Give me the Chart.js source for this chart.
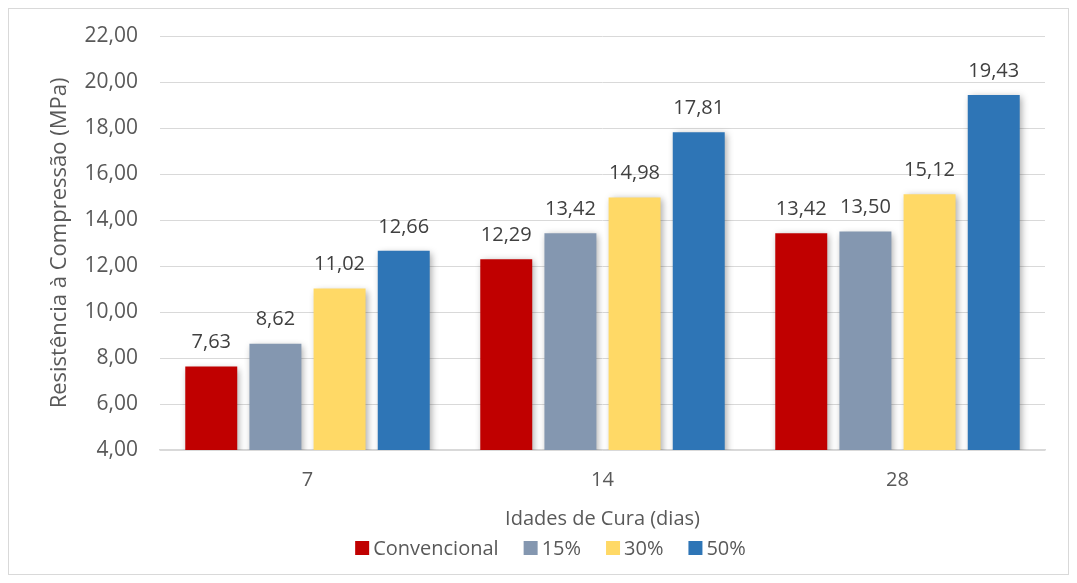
<!DOCTYPE html>
<html>
<head>
<meta charset="utf-8">
<script src="https://cdn.jsdelivr.net/npm/chart.js@4.4.1/dist/chart.umd.min.js"></script>
<style>
    html, body { margin: 0; padding: 0; background: #fff; }
    #wrap { position: relative; width: 1077px; height: 583px; }
    #frame {
        position: absolute; left: 8px; top: 8px; width: 1059px; height: 565px;
        border: 1px solid #d9d9d9; pointer-events: none;
    }
</style>
</head>
<body>
<div id="wrap">
    <canvas id="strengthChart" width="1077" height="583"></canvas>
    <div id="frame"></div>
</div>
<script>
// Curing ages (days) and compressive strength per mix (MPa)
const ages = ['7', '14', '28'];
const seriesNames = ['Convencional', '15%', '30%', '50%'];
const convencional = [7.63, 12.29, 13.42];
const pct15 = [8.62, 13.42, 13.50];
const pct30 = [11.02, 14.98, 15.12];
const pct50 = [12.66, 17.81, 19.43];
const yTicks = [4, 6, 8, 10, 12, 14, 16, 18, 20, 22];

const colors = ['#c00000', '#8497b0', '#ffd966', '#2e75b6'];
const FONT = '"Open Sans", "Liberation Sans", sans-serif';
const TEXT = '#595959';

const fmt = v => v.toFixed(2).replace('.', ',');

// Soft drop shadow behind the bars
const barShadow = {
    id: 'barShadow',
    beforeDatasetsDraw(chart) {
        const ctx = chart.ctx;
        ctx.save();
        ctx.shadowColor = 'rgba(0, 0, 0, 0.35)';
        ctx.shadowBlur = 7;
        ctx.shadowOffsetX = 2;
        ctx.shadowOffsetY = 2;
    },
    afterDatasetsDraw(chart) {
        chart.ctx.restore();
    }
};

// Value labels above every bar
const valueLabels = {
    id: 'valueLabels',
    afterDatasetsDraw(chart) {
        const ctx = chart.ctx;
        ctx.save();
        ctx.font = '20px ' + FONT;
        ctx.fillStyle = '#404040';
        ctx.textAlign = 'center';
        ctx.textBaseline = 'middle';
        chart.data.datasets.forEach((ds, i) => {
            chart.getDatasetMeta(i).data.forEach((bar, j) => {
                ctx.fillText(fmt(ds.data[j]), bar.x, bar.y - 24);
            });
        });
        ctx.restore();
    }
};

// Compact legend row under the axis title (square swatch, tight text gap)
const legendRow = {
    id: 'legendRow',
    afterDraw(chart) {
        const ctx = chart.ctx;
        const box = 14, textGap = 4, itemGap = 25;
        ctx.save();
        ctx.font = '20px ' + FONT;
        ctx.textBaseline = 'middle';
        const items = chart.data.datasets.map(ds => ({
            text: ds.label,
            color: ds.backgroundColor,
            w: box + textGap + ctx.measureText(ds.label).width
        }));
        const total = items.reduce((s, it) => s + it.w, 0) + itemGap * (items.length - 1);
        let x = chart.width / 2 + 12 - total / 2;
        const y = 548;
        items.forEach(it => {
            ctx.fillStyle = it.color;
            ctx.fillRect(x, y - box / 2, box, box);
            ctx.fillStyle = TEXT;
            ctx.fillText(it.text, x + box + textGap, y + 1);
            x += it.w + itemGap;
        });
        ctx.restore();
    }
};

const seriesData = [convencional, pct15, pct30, pct50];

new Chart(document.getElementById('strengthChart'), {
    type: 'bar',
    data: {
        labels: ages,
        datasets: seriesNames.map((name, i) => ({
            label: name,
            data: seriesData[i],
            backgroundColor: colors[i],
            borderWidth: 0,
            barPercentage: 0.81,
            categoryPercentage: 0.87
        }))
    },
    plugins: [barShadow, valueLabels, legendRow],
    options: {
        responsive: false,
        animation: false,
        layout: { padding: { left: 47, right: 32, top: 36, bottom: 52 } },
        plugins: {
            legend: { display: false },
            tooltip: { enabled: false }
        },
        scales: {
            x: {
                grid: { display: false, drawTicks: false },
                border: { color: '#d9d9d9', width: 1.5 },
                ticks: { color: TEXT, padding: 18, font: { family: FONT, size: 20 } },
                title: {
                    display: true,
                    text: 'Idades de Cura (dias)',
                    color: TEXT,
                    font: { family: FONT, size: 20 },
                    padding: { top: -3, bottom: 0 }
                }
            },
            y: {
                min: 4,
                max: 22,
                afterBuildTicks: scale => { scale.ticks = yTicks.map(v => ({ value: v })); },
                afterFit: scale => { scale.width = 113; },
                grid: { color: '#d9d9d9', drawTicks: false },
                border: { display: false },
                ticks: {
                    color: TEXT,
                    padding: 22,
                    font: { family: FONT, size: 21 },
                    callback: v => fmt(v)
                },
                title: {
                    display: true,
                    text: 'Resistência à Compressão (MPa)',
                    color: TEXT,
                    font: { family: FONT, size: 22 },
                    padding: { top: 0, bottom: 0 }
                }
            }
        }
    }
});
</script>
</body>
</html>
